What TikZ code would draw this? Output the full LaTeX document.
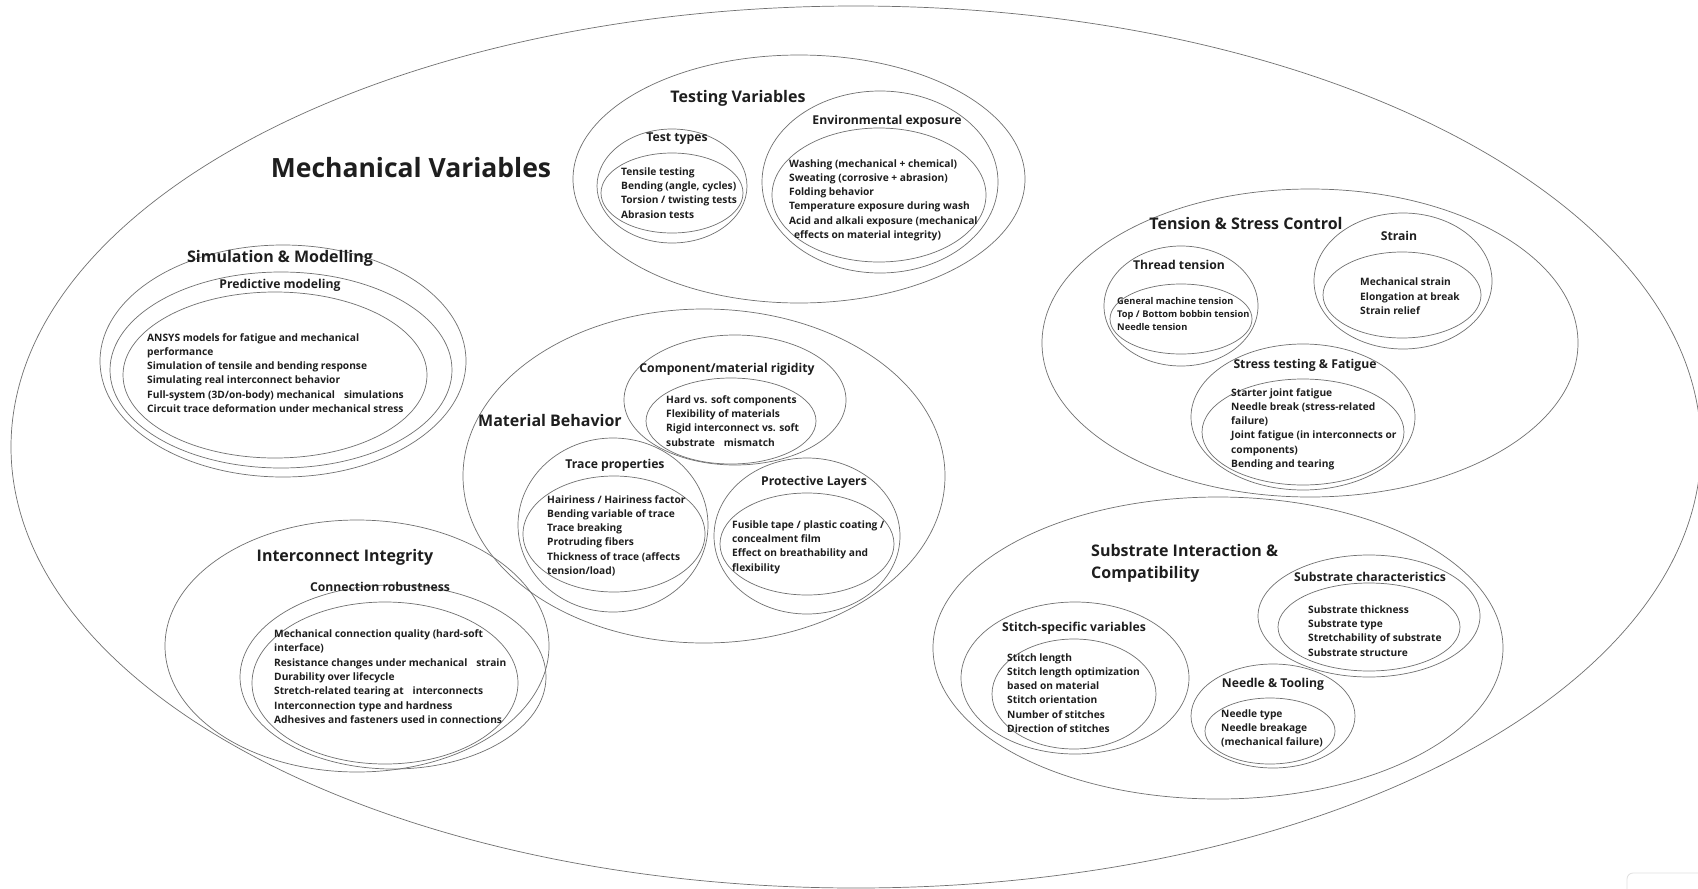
\documentclass[tikz,border=0pt]{standalone}
\usepackage{fontspec}
\setmainfont{Open Sans}
\usetikzlibrary{shapes.geometric}
\definecolor{linegray}{HTML}{707070}
\definecolor{ink}{HTML}{1E1E1E}
% an ellipse outline as a named node: name, centre x, centre y, x radius, y radius
\newcommand\ovalnode[5]{\node[ring, minimum width=#4*2pt, minimum height=#5*2pt] (#1) at (#2,#3) {};}
\begin{document}
\begin{tikzpicture}[x=1pt,y=-1pt,
  ring/.style={draw=linegray, line width=0.7pt, ellipse, inner sep=0pt, outer sep=0pt},
  % item lists are placed by the baseline of their last line
  items/.style={font=\fontsize{10.2}{14.3}\selectfont\bfseries, text=ink, align=left, inner sep=0pt, anchor=base west},
  smallitems/.style={font=\fontsize{9.3}{13}\selectfont\bfseries, text=ink, align=left, inner sep=0pt, anchor=base west},
  sublabel/.style={font=\fontsize{12.2}{15}\selectfont\bfseries, text=ink, inner sep=0pt},
  grouplabel/.style={font=\fontsize{16}{22}\selectfont\bfseries, text=ink, inner sep=0pt},
  toplabel/.style={font=\fontsize{26.5}{30}\selectfont\bfseries, text=ink, inner sep=0pt}]
\useasboundingbox (0,0) rectangle (1698,889);
\clip (0,0) rectangle (1698,889);
\fill[white] (0,0) rectangle (1698,889);

% outer boundary
\ovalnode{mech}{856}{447}{845}{441}
\node[toplabel] (mechT) at (411,168) {Mechanical Variables};

% Testing Variables
\ovalnode{tv}{799}{179}{226}{124}
\node[grouplabel] (tvT) at (738,98) {Testing Variables};
\ovalnode{ttO}{672}{186}{75}{57}
\ovalnode{ttI}{672}{193}{71}{40}
\node[sublabel] (ttT) at (677,139) {Test types};
\node[items] (ttL) at (621,218) {Tensile testing\\Bending (angle, cycles)\\Torsion / twisting tests\\Abrasion tests};
\ovalnode{envO}{880}{182}{118}{91}
\ovalnode{envI}{879}{195}{107}{67}
\node[sublabel] (envT) at (887,121) {Environmental exposure};
\node[items] (envL) at (789,238.5) {Washing (mechanical + chemical)\\Sweating (corrosive + abrasion)\\Folding behavior\\Temperature exposure during wash\\Acid and alkali exposure (mechanical\\\hspace{5pt}effects on material integrity)};

% Simulation & Modelling
\ovalnode{simO}{283}{361}{183}{116}
\ovalnode{simM}{281}{370}{171}{98}
\ovalnode{simI}{275}{375}{152}{83}
\node[grouplabel] (simT) at (280,258) {Simulation \& Modelling};
\node[sublabel] (predT) at (280,285) {Predictive modeling};
\node[items] (simL) at (147,412.5) {ANSYS models for fatigue and mechanical\\performance\\Simulation of tensile and bending response\\Simulating real interconnect behavior\\Full-system (3D/on-body) mechanical\hspace{9pt}simulations\\Circuit trace deformation under mechanical stress};

% Material Behavior
\ovalnode{matO}{704}{476}{241}{167}
\node[grouplabel, anchor=west] (matT) at (478,420) {Material Behavior};
\ovalnode{rigO}{735}{400}{111}{65}
\ovalnode{rigI}{731}{421}{85}{43}
\node[sublabel] (rigT) at (727,369) {Component/material rigidity};
\node[items] (rigL) at (666,446) {Hard vs. soft components\\Flexibility of materials\\Rigid interconnect vs. soft\\substrate\hspace{9pt}mismatch};
\ovalnode{trO}{613}{525}{95}{87}
\ovalnode{trI}{614}{534}{91}{58}
\node[sublabel] (trT) at (615,465) {Trace properties};
\node[items] (trL) at (547,574.5) {Hairiness / Hairiness factor\\Bending variable of trace\\Trace breaking\\Protruding fibers\\Thickness of trace (affects\\tension/load)};
\ovalnode{prO}{807}{536}{93}{78}
\ovalnode{prI}{807}{544}{87}{51}
\node[sublabel] (prT) at (814,482) {Protective Layers};
\node[items] (prL) at (732,571) {Fusible tape / plastic coating /\\concealment film\\Effect on breathability and\\flexibility};

% Tension & Stress Control
\ovalnode{tsO}{1310}{343}{268}{154}
\node[grouplabel] (tsT) at (1246,223) {Tension \& Stress Control};
\ovalnode{thO}{1181}{306}{77}{60}
\ovalnode{thI}{1181}{319}{71}{35}
\node[sublabel] (thT) at (1179,265) {Thread tension};
\node[smallitems] (thL) at (1117,330.5) {General machine tension\\Top / Bottom bobbin tension\\Needle tension};
\ovalnode{stO}{1403}{281}{89}{68}
\ovalnode{stI}{1402}{295}{79}{43}
\node[sublabel] (stT) at (1399,236) {Strain};
\node[items] (stL) at (1360,314.5) {Mechanical strain\\Elongation at break\\Strain relief};
\ovalnode{fgO}{1303}{417}{112}{73}
\ovalnode{fgI}{1303}{432}{101}{53}
\node[sublabel] (fgT) at (1305,365) {Stress testing \& Fatigue};
\node[items] (fgL) at (1231,467.5) {Starter joint fatigue\\Needle break (stress-related\\failure)\\Joint fatigue (in interconnects or\\components)\\Bending and tearing};

% Interconnect Integrity
\ovalnode{icO}{357}{646}{192}{126}
\ovalnode{icM}{393}{677}{153}{92}
\ovalnode{icI}{385}{683}{133}{81}
\node[grouplabel] (icT) at (345,557) {Interconnect Integrity};
\node[sublabel] (crT) at (380,587) {Connection robustness};
\node[items] (icL) at (274,723.3) {Mechanical connection quality (hard-soft\\interface)\\Resistance changes under mechanical\hspace{9pt}strain\\Durability over lifecycle\\Stretch-related tearing at\hspace{9pt}interconnects\\Interconnection type and hardness\\Adhesives and fasteners used in connections};

% Substrate Interaction & Compatibility
\ovalnode{sbO}{1218}{648}{285}{151}
\node[grouplabel, anchor=west, align=left] (sbT) at (1091,563) {Substrate Interaction \&\\Compatibility};
\ovalnode{scO}{1369}{616}{111}{61}
\ovalnode{scI}{1369}{627}{91}{44}
\node[sublabel] (scT) at (1370,577) {Substrate characteristics};
\node[items] (scL) at (1308,656) {Substrate thickness\\Substrate type\\Stretchability of substrate\\Substrate structure};
\ovalnode{ssO}{1075}{678}{114}{76}
\ovalnode{ssI}{1074}{694}{82}{55}
\node[sublabel] (ssT) at (1074,628) {Stitch-specific variables};
\node[items] (ssL) at (1007,732.5) {Stitch length\\Stitch length optimization\\based on material\\Stitch orientation\\Number of stitches\\Direction of stitches};
\ovalnode{ntO}{1273}{716}{82}{52}
\ovalnode{ntI}{1270}{731}{65}{33}
\node[sublabel] (ntT) at (1273,684) {Needle \& Tooling};
\node[items] (ntL) at (1221,745.6) {Needle type\\Needle breakage\\(mechanical failure)};

% corner widget
\draw[draw=black!12, line width=0.8pt, rounded corners=6pt] (1627,873) rectangle (1720,910);
\end{tikzpicture}
\end{document}
